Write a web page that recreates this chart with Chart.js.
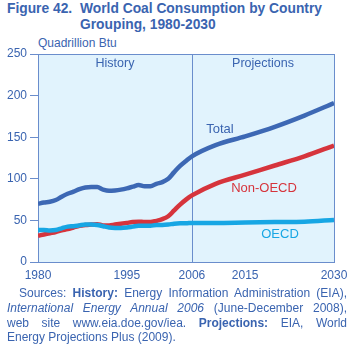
<!DOCTYPE html>
<html><head><meta charset="utf-8">
<script src="https://cdn.jsdelivr.net/npm/chart.js@4"></script>
<style>
html,body{margin:0;padding:0;background:#fff;}
body{width:355px;height:352px;position:relative;overflow:hidden;font-family:"Liberation Sans",Arial,sans-serif;}
#title{position:absolute;left:7px;top:1px;color:#3a64b0;font-weight:bold;font-size:13.8px;line-height:16px;display:flex;white-space:nowrap;}
#title .num{width:73px;}
#ylab{position:absolute;left:38px;top:36px;color:#3a64b0;font-size:12px;}
#note{position:absolute;left:7px;top:286px;width:340px;color:#3a64b0;font-size:12px;line-height:14.8px;}
#note .j{text-align:justify;text-align-last:justify;}
#note .first{padding-left:12px;}
canvas{position:absolute;left:0;top:0;}
</style></head><body>
<div id="title"><div class="num">Figure 42.</div><div>World Coal Consumption by Country<br>Grouping, 1980-2030</div></div>
<div id="ylab">Quadrillion Btu</div>
<canvas id="c" width="355" height="352"></canvas>
<div id="note">
<div class="j first">Sources: <b>History:</b> Energy Information Administration (EIA),</div>
<div class="j"><i>International Energy Annual 2006</i> (June-December 2008),</div>
<div class="j">web site www.eia.doe.gov/iea. <b>Projections:</b> EIA, World</div>
<div>Energy Projections Plus (2009).</div>
</div>
<script>
const years = [1980,1981,1982,1983,1984,1985,1986,1987,1988,1989,1990,1991,1992,1993,1994,1995,1996,1997,1998,1999,2000,2001,2002,2003,2004,2005,2006,2010,2015,2020,2025,2030];
const total = [70,71.5,72.5,74.5,78.5,82,84.5,87.5,89.5,90,90,87,85.5,86,87,88.5,90.5,92.5,91,91,94,96,100,108,115.5,121.5,127,140.5,151,162.5,176,191];
const nonOecd = [31.5,33,34.5,36,38,39.5,41.5,43.5,44.5,45,45.5,44,44,45,46,47,48,48.5,48,48,49.5,51.5,55,62,69,75,80,94,105,116,127,140];
const oecd = [38.5,38.5,38,38.5,40.5,42.5,43,44,45,45,44.5,43,41.5,41,41,41.5,42.5,43.5,43.5,43.5,44.5,44.5,45,46,46.5,46.5,47,47,47.5,48,48.5,50.5];
const xTicks = [1980,1995,2006,2015,2030];
const yTicks = [0,50,100,150,200,250];
const divideYear = 2006;

const pts = arr => years.map((y,i)=>({x:y,y:arr[i]}));
const AX = '#6a8dcc';
const TXT = '#3a64b0';
const FONT = '"Liberation Sans", Arial, sans-serif';

const deco = {
  id:'deco',
  beforeDatasetsDraw(chart){
    const {ctx, chartArea:a, scales:{x}} = chart;
    ctx.save();
    ctx.fillStyle = '#e1f3fd';
    ctx.fillRect(a.left, a.top, a.right-a.left, a.bottom-a.top);
    ctx.strokeStyle = AX; ctx.lineWidth = 1;
    const dx = Math.round(x.getPixelForValue(divideYear))+0.5;
    ctx.beginPath(); ctx.moveTo(dx,a.top); ctx.lineTo(dx,a.bottom); ctx.stroke();
    ctx.strokeRect(Math.round(a.left)+0.5, Math.round(a.top)+0.5, Math.round(a.right-a.left), Math.round(a.bottom-a.top));
    ctx.font = '12.5px ' + FONT;
    ctx.textAlign='center'; ctx.textBaseline='middle';
    ctx.fillStyle = TXT;
    ctx.fillText('History', 115, 64);
    ctx.fillText('Projections', 263, 64);
    ctx.font = '13px ' + FONT;
    ctx.fillStyle = '#3a64b0'; ctx.fillText('Total', 220, 129);
    ctx.fillStyle = '#d6343c'; ctx.fillText('Non-OECD', 264, 188);
    ctx.fillStyle = '#17a6e4'; ctx.fillText('OECD', 280, 234);
    ctx.restore();
  }
};

new Chart(document.getElementById('c'), {
  type:'line',
  data:{datasets:[
    {label:'OECD', data:pts(oecd), borderColor:'#17a6e4', borderWidth:4.5, pointRadius:0, cubicInterpolationMode:'monotone', fill:false},
    {label:'Non-OECD', data:pts(nonOecd), borderColor:'#d6343c', borderWidth:4.5, pointRadius:0, cubicInterpolationMode:'monotone', fill:false},
    {label:'Total', data:pts(total), borderColor:'#3d68b4', borderWidth:4.5, pointRadius:0, cubicInterpolationMode:'monotone', fill:false}
  ]},
  options:{
    responsive:false, animation:false,
    layout:{padding:{left:0,right:21,top:54,bottom:70}},
    plugins:{legend:{display:false}, tooltip:{enabled:false}},
    scales:{
      x:{type:'linear', min:1980, max:2030,
        afterBuildTicks(s){ s.ticks = xTicks.map(v=>({value:v})); },
        afterFit(s){ s.height = 20; },
        grid:{display:false, drawTicks:false}, border:{display:false},
        ticks:{color:TXT, font:{size:12, family:FONT}, padding:6, maxRotation:0, autoSkip:false, callback:v=>String(v)}
      },
      y:{min:0, max:250,
        afterBuildTicks(s){ s.ticks = yTicks.map(v=>({value:v})); },
        afterFit(s){ s.width = 38; },
        grid:{drawOnChartArea:false, drawTicks:true, tickLength:8, color:AX}, border:{display:false},
        ticks:{color:TXT, font:{size:12, family:FONT}, padding:3}
      }
    }
  },
  plugins:[deco]
});
</script>
</body></html>
